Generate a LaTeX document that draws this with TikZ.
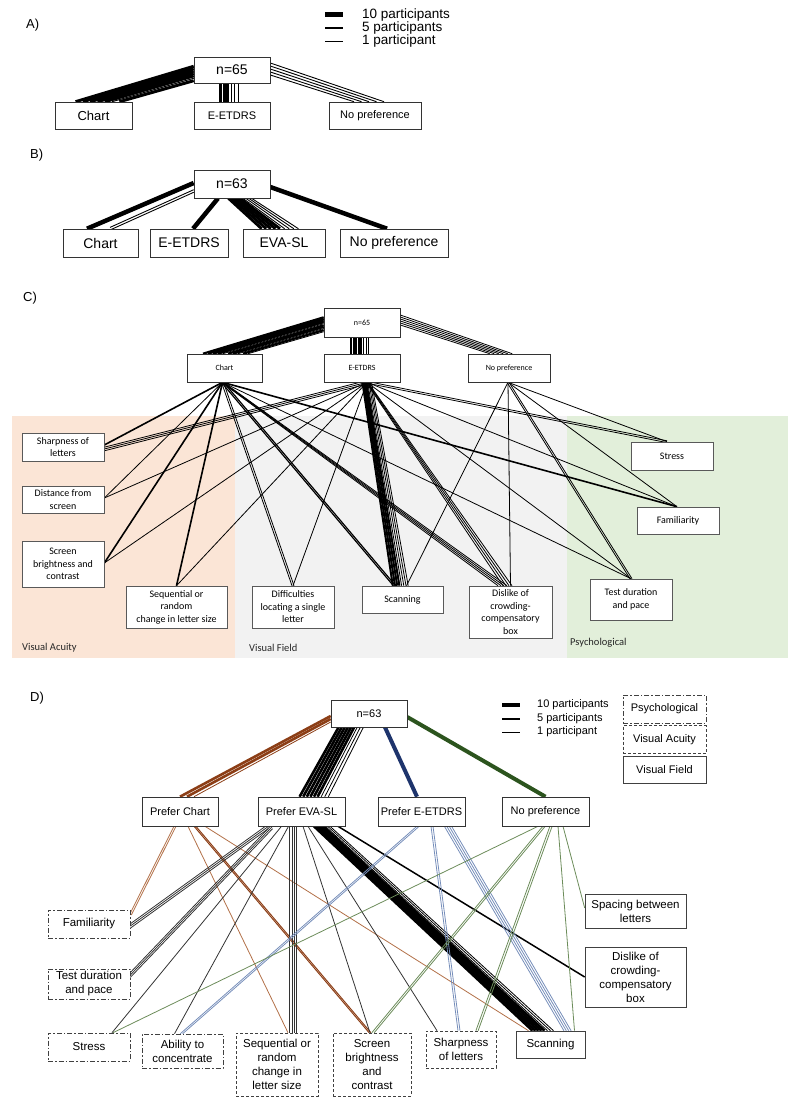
\documentclass[tikz,border=0pt]{standalone}
\usepackage{fontspec}
\setmainfont{Liberation Sans}
\newfontfamily\calfont{Carlito}
\usetikzlibrary{calc}
\usetikzlibrary{positioning}
\usetikzlibrary{backgrounds}

\definecolor{colBrown}{RGB}{140,62,22}
\definecolor{colBrownL}{RGB}{178,112,72}
\definecolor{colBlue}{RGB}{30,52,108}
\definecolor{colBlueL}{RGB}{118,142,186}
\definecolor{colGreen}{RGB}{44,84,30}
\definecolor{colGreenL}{RGB}{108,140,90}
\definecolor{bgAcuity}{RGB}{251,229,214}
\definecolor{bgField}{RGB}{242,242,242}
\definecolor{bgPsych}{RGB}{226,239,218}

% strands from #2 to #3, stepped by #4 at the start and #5 at the end, one width per strand in #6
\newcommand{\bundle}[6][black]{%
  \foreach \bw [count=\bk] in {#6}{\xdef\bundlen{\bk}}%
  \foreach \bw [count=\bk] in {#6}{%
    \pgfmathsetmacro{\boff}{\bk-(\bundlen+1)/2}%
    \draw[#1, line width=\bw pt] ($#2+{\boff}*#4$) -- ($#3+{\boff}*#5$);%
  }%
}

\begin{document}
\begin{tikzpicture}[x=1pt, y=-1pt, font=\fontsize{11}{13}\selectfont,
    wh/.style 2 args={minimum width=#1pt, minimum height=#2pt}]
\tikzstyle{box}=[draw=black!80, rectangle, fill=white, inner sep=1pt, align=center, line width=0.6pt]
\tikzstyle{abox}=[box, font=\fontsize{11}{13}\selectfont]
\tikzstyle{bbox}=[box, font=\fontsize{14}{16}\selectfont]
\tikzstyle{ctop}=[box, font=\calfont\fontsize{8}{10}\selectfont]
\tikzstyle{cbox}=[box, draw=black!65, font=\calfont\fontsize{10}{12.5}\selectfont]
\tikzstyle{dbox}=[box, draw=black!75, font=\fontsize{11.5}{14}\selectfont]
\tikzstyle{psy}=[dbox, dash pattern=on 5pt off 2pt on 1.5pt off 2pt]
\tikzstyle{acu}=[dbox, dash pattern=on 3pt off 2pt]
\tikzstyle{fld}=[dbox]
\tikzstyle{panel}=[anchor=west, inner sep=0pt, font=\fontsize{13}{15}\selectfont]
\tikzstyle{legtxt}=[anchor=west, inner sep=0pt]
\tikzstyle{region}=[anchor=west, inner sep=0pt, text=black!85, font=\calfont\fontsize{10.5}{12}\selectfont]

\useasboundingbox (0,0) rectangle (800,1108);

% ---------------- A)
\node[panel] (lblA) at (26,25) {A)};
\coordinate (kA1) at (325,15); \coordinate (kA1e) at (343,15);
\coordinate (kA2) at (325,28); \coordinate (kA2e) at (343,28);
\coordinate (kA3) at (325,41); \coordinate (kA3e) at (343,41);
\draw[line width=5pt] (kA1) -- (kA1e);
\draw[line width=2pt] (kA2) -- (kA2e);
\draw[line width=0.8pt] (kA3) -- (kA3e);
\node[legtxt, right=19pt of kA1e, font=\fontsize{13.5}{15}\selectfont] {10 participants};
\node[legtxt, right=19pt of kA2e, font=\fontsize{13.5}{15}\selectfont] {5 participants};
\node[legtxt, right=19pt of kA3e, font=\fontsize{13.5}{15}\selectfont] {1 participant};

\node[abox, wh={76}{26}, font=\fontsize{14}{16}\selectfont] (nA) at (232,70) {n=65};
\node[abox, wh={77}{27}, font=\fontsize{13}{15}\selectfont] (chartA) at (93.5,115.5) {Chart};
\node[abox, wh={76}{27}] (etdA) at (232,115.5) {E-ETDRS};
\node[abox, wh={92}{27}] (noA) at (375,115.5) {No preference};

% ---------------- B)
\node[panel] (lblB) at (30,155) {B)};
\node[bbox, wh={76}{28}] (nB) at (232,184) {n=63};
\node[bbox, wh={75}{28}] (chartB) at (100.5,243) {Chart};
\node[bbox, wh={78}{28}] (etdB) at (189,243) {E-ETDRS};
\node[bbox, wh={82}{28}] (evaB) at (284,243) {EVA-SL};
\node[bbox, wh={108}{28}] (noB) at (394,243) {No preference};

% ---------------- C)
\node[panel] (lblC) at (23,298) {C)};
\begin{scope}[on background layer]
  \fill[bgAcuity] (12,416) rectangle (235,658);
  \fill[bgField] (235,416) rectangle (567,658);
  \fill[bgPsych] (567,416) rectangle (788,658);
\end{scope}
\node[region] (regAcu) at (22,648) {Visual Acuity};
\node[region] (regFld) at (249,648) {Visual Field};
\node[region] (regPsy) at (570,643) {Psychological};

\node[ctop, wh={76}{29}] (nC) at (362,322.5) {n=65};
\node[ctop, wh={75}{28}] (chartC) at (224.5,368) {Chart};
\node[ctop, wh={76}{28}] (etdC) at (362,368) {E-ETDRS};
\node[ctop, wh={82}{28}] (noC) at (509,368) {No preference};

\node[cbox, wh={82}{28}] (sharpC) at (63,447) {Sharpness of\\letters};
\node[cbox, wh={82}{27}] (distC) at (63,499.5) {Distance from\\screen};
\node[cbox, wh={82}{46}] (screenC) at (63,564) {Screen\\brightness and\\contrast};
\node[cbox, wh={101}{42}] (seqC) at (176.5,607) {Sequential or\\random\\change in letter size};
\node[cbox, wh={82}{42}] (diffC) at (293,607) {Difficulties\\locating a single\\letter};
\node[cbox, wh={81}{27}] (scanC) at (402.5,599.5) {Scanning};
\node[cbox, wh={83}{52}] (dislikeC) at (510.5,612) {Dislike of\\crowding-\\compensatory\\box};
\node[cbox, wh={82}{41}] (testC) at (631,599.5) {Test duration\\and pace};
\node[cbox, wh={82}{28}] (stressC) at (672,456) {Stress};
\node[cbox, wh={82}{27}] (famC) at (678,520.5) {Familiarity};

% ---------------- D)
\node[panel] (lblD) at (30,698) {D)};
\coordinate (kD1) at (502,705); \coordinate (kD1e) at (520,705);
\coordinate (kD2) at (502,719); \coordinate (kD2e) at (520,719);
\coordinate (kD3) at (502,732); \coordinate (kD3e) at (520,732);
\draw[line width=4pt] (kD1) -- (kD1e);
\draw[line width=2pt] (kD2) -- (kD2e);
\draw[line width=0.8pt] (kD3) -- (kD3e);
\node[legtxt, right=17pt of kD1e] {10 participants};
\node[legtxt, right=17pt of kD2e] {5 participants};
\node[legtxt, right=17pt of kD3e] {1 participant};
\node[psy, wh={83}{28}, font=\fontsize{11}{13}\selectfont] (psyK) at (664.5,709) {Psychological};
\node[acu, wh={83}{28}, font=\fontsize{11}{13}\selectfont] (acuK) at (664.5,739.5) {Visual Acuity};
\node[fld, wh={83}{27}, font=\fontsize{11}{13}\selectfont] (fldK) at (664.5,770) {Visual Field};

\node[abox, wh={76}{27}] (nD) at (369,713.5) {n=63};
\node[abox, wh={76}{29}] (pChart) at (180,811.5) {Prefer Chart};
\node[abox, wh={87}{29}] (pEva) at (301.5,811.5) {Prefer EVA-SL};
\node[abox, wh={87}{29}] (pEtd) at (421.5,811.5) {Prefer E-ETDRS};
\node[abox, wh={87}{29}] (pNo) at (545.5,811.5) {No preference};

\node[psy, wh={82}{28}] (famD) at (89,924) {Familiarity};
\node[psy, wh={82}{30}] (testD) at (89,984) {Test duration\\and pace};
\node[psy, wh={82}{28}] (stressD) at (89,1047) {Stress};
\node[psy, wh={81}{34}] (concD) at (182.5,1051) {Ability to\\concentrate};
\node[acu, wh={82}{63}] (seqD) at (277,1064.5) {Sequential or\\random\\change in\\letter size};
\node[acu, wh={78}{63}] (screenD) at (372,1064.5) {Screen\\brightness\\and\\contrast};
\node[acu, wh={70}{37}] (sharpD) at (461,1049.5) {Sharpness\\of letters};
\node[fld, wh={69}{27}] (scanD) at (550.5,1044.5) {Scanning};
\node[fld, wh={101}{34}] (spaceD) at (635.5,911) {Spacing between\\letters};
\node[fld, wh={101}{60}] (dislikeD) at (635.5,977) {Dislike of\\crowding-\\compensatory\\box};

\begin{scope}[on background layer]
% A) connectors
\bundle{([yshift=-3.5pt]nA.west)}{([xshift=4pt]chartA.north)}{(0,2.4)}{(7.3,0)}{3,3,3,3,3,1,3}
\bundle{([xshift=-2.5pt]nA.south)}{([xshift=-2.5pt]etdA.north)}{(3.6,0)}{(3.6,0)}{3,3,3,1,1,1}
\bundle{([yshift=1pt]nA.east)}{([xshift=-6pt]noA.north)}{(0,3)}{(-7.5,0)}{0.9,0.9,0.9,0.9,0.9}
% B) connectors
\bundle{([yshift=1pt]nB.west)}{([xshift=-13.5pt]chartB.north)}{(0,0)}{(0,0)}{4.5}
\bundle{([yshift=-7pt]nB.west)}{([xshift=9.5pt]chartB.north)}{(0,2.6)}{(0,2.6)}{0.9,0.9}
\bundle{([xshift=-14pt]nB.south)}{([xshift=4pt]etdB.north)}{(0,0)}{(0,0)}{4.5}
\bundle{([xshift=8pt]nB.south)}{([xshift=-4pt]evaB.north)}{(2.9,0)}{(4.6,0)}{2.8,2.8,2.8,2.8,2.8,0.9,0.9,0.9,0.9}
\bundle{([yshift=-3pt]nB.east)}{([xshift=-7pt]noB.north)}{(0,0)}{(0,0)}{4.5}
% C) connectors
\bundle{([yshift=-2pt]nC.west)}{([xshift=1pt]chartC.north)}{(0,1.6)}{(5,0)}{2.2,2.2,2.2,2.2,0.8,2.2,2.2,0.8,2.2,0.8}
\bundle{([xshift=-2pt]nC.south)}{([xshift=-2pt]etdC.north)}{(2.5,0)}{(2.5,0)}{2.4,2.4,2.4,2.4,2.4,0.8,0.8,0.8}
\bundle{([yshift=2.5pt]nC.east)}{([xshift=-8pt]noC.north)}{(0,2)}{(-4.5,0)}{0.8,0.8,0.8,0.8,0.8,0.8}
% chart
\bundle{([xshift=-2pt]chartC.south)}{([yshift=2pt]sharpC.east)}{(0,0)}{(0,0)}{1.6}
\bundle{([xshift=-2pt]chartC.south)}{([yshift=1.5pt]distC.east)}{(0,0)}{(0,0)}{0.8}
\bundle{([xshift=-2pt]chartC.south)}{([yshift=1pt]screenC.east)}{(0,0)}{(0,0)}{1.6}
\bundle{([xshift=-2pt]chartC.south)}{(seqC.north)}{(0,0)}{(0,0)}{1.6}
\bundle{([xshift=-2pt]chartC.south)}{(diffC.north)}{(2,0)}{(2,0)}{0.8,0.8}
\bundle{([xshift=-2pt]chartC.south)}{([xshift=-8pt]scanC.north)}{(2.2,0)}{(2.2,0)}{1.2,1.2}
\bundle{([xshift=-2pt]chartC.south)}{([xshift=-8pt]dislikeC.north)}{(0.6,0)}{(3,0)}{0.8,0.8,0.8,0.8}
\bundle{([xshift=-2pt]chartC.south)}{([xshift=-1pt]famC.north)}{(0,0)}{(0,0)}{1.6}
\bundle{([xshift=-2pt]chartC.south)}{(testC.north)}{(0,0)}{(0,0)}{0.8}
% e-etdrs
\bundle{([xshift=5pt]etdC.south)}{([yshift=-2pt]sharpC.east)}{(0,1.8)}{(0,1.8)}{0.8,0.8,0.8}
\bundle{([xshift=5pt]etdC.south)}{([yshift=1.5pt]distC.east)}{(0,0)}{(0,0)}{0.8}
\bundle{([xshift=5pt]etdC.south)}{([yshift=1pt]screenC.east)}{(0,0)}{(0,0)}{0.8}
\bundle{([xshift=5pt]etdC.south)}{(seqC.north)}{(0,0)}{(0,0)}{0.8}
\bundle{([xshift=5pt]etdC.south)}{(diffC.north)}{(0,0)}{(0,0)}{0.8}
\bundle{([xshift=5pt]etdC.south)}{([xshift=-2pt]scanC.north)}{(1.3,0)}{(2.2,0)}{2,2,2,2,0.8,0.8,0.8,0.8}
\bundle{([xshift=5pt]etdC.south)}{([xshift=-3pt]dislikeC.north)}{(0.6,0)}{(3,0)}{0.8,0.8,0.8,0.8}
\bundle{([xshift=5pt]etdC.south)}{([xshift=-5pt]stressC.north)}{(0,1.8)}{(0,1.8)}{0.8,0.8}
\bundle{([xshift=5pt]etdC.south)}{([xshift=-1pt]famC.north)}{(0,0)}{(0,0)}{0.8}
\bundle{([xshift=5pt]etdC.south)}{(testC.north)}{(0,0)}{(0,0)}{0.8}
% no preference
\bundle{([xshift=-1pt]noC.south)}{([xshift=4pt]scanC.north)}{(0,0)}{(0,0)}{0.8}
\bundle{([xshift=-1pt]noC.south)}{(dislikeC.north)}{(0,0)}{(0,0)}{0.8}
\bundle{([xshift=-1pt]noC.south)}{([xshift=-5pt]stressC.north)}{(0,0)}{(0,0)}{0.8}
\bundle{([xshift=-1pt]noC.south)}{([xshift=-1pt]famC.north)}{(0,0)}{(0,0)}{0.8}
\bundle{([xshift=-1pt]noC.south)}{(testC.north)}{(2,0)}{(2,0)}{0.8,0.8}
% D) connectors
\bundle[colBrown]{([yshift=-5.5pt]nD.west)}{([xshift=7pt]pChart.north)}{(0,3)}{(7,0)}{2.6,2.6,0.8}
\bundle{([xshift=-18pt]nD.south)}{([xshift=12.5pt]pEva.north)}{(3.1,0)}{(3.6,0)}{2.6,2.6,2.6,2.6,2.6,2.6,0.8,0.8,0.8}
\bundle[colBlue]{([xshift=16pt]nD.south)}{([xshift=-4.5pt]pEtd.north)}{(0,0)}{(0,0)}{4}
\bundle[colGreen]{([yshift=-3.5pt]nD.east)}{(pNo.north)}{(0,0)}{(0,0)}{4}
% prefer chart
\bundle[colBrownL]{([xshift=-5pt]pChart.south)}{([yshift=9pt]famD.east)}{(2,0)}{(2,0)}{0.8,0.8}
\bundle[colBrownL]{([xshift=8pt]pChart.south)}{([xshift=11pt]seqD.north)}{(0,0)}{(0,0)}{0.8}
\bundle[colBrown]{([xshift=15pt]pChart.south)}{([xshift=-2pt]screenD.north)}{(1.8,0)}{(1.8,0)}{1,1}
\bundle[colBrownL]{([xshift=25pt]pChart.south)}{([xshift=-22pt]scanD.north)}{(0,0)}{(0,0)}{0.8}
% prefer eva-sl
\bundle[black!80]{([xshift=-33pt]pEva.south)}{([yshift=-2pt]famD.east)}{(0,2.2)}{(0,2.2)}{0.8,0.8,0.8}
\bundle[black!80]{([xshift=-29pt]pEva.south)}{([yshift=9pt]testD.east)}{(0,2.4)}{(0,2.4)}{0.8,0.8,0.8}
\bundle[black!80]{([xshift=-20pt]pEva.south)}{([xshift=23pt]stressD.north)}{(0,0)}{(0,0)}{0.8}
\bundle[black!80]{([xshift=-13pt]pEva.south)}{([xshift=-8pt]concD.north)}{(0,0)}{(0,0)}{0.8}
\bundle[black!80]{([xshift=-8.5pt]pEva.south)}{([xshift=16pt]seqD.north)}{(2.2,0)}{(2.2,0)}{0.8,0.8,0.8,0.8}
\bundle[black!80]{([xshift=1.5pt]pEva.south)}{([xshift=-2pt]screenD.north)}{(0,0)}{(0,0)}{0.8}
\bundle[black!80]{([xshift=6.5pt]pEva.south)}{([xshift=-24pt]sharpD.north)}{(0,0)}{(0,0)}{0.8}
\bundle{([xshift=20.5pt]pEva.south)}{([xshift=-7.5pt]scanD.north)}{(2.3,0)}{(3,0)}{2.5,2.5,2.5,2.5,2.5,0.8,0.8,0.8}
\bundle{([xshift=36.5pt]pEva.south)}{(dislikeD.west)}{(0,0)}{(0,0)}{1.5}
% prefer e-etdrs
\bundle[colBlueL]{([xshift=-3.5pt]pEtd.south)}{([xshift=-1pt]concD.north)}{(2.4,0)}{(2.4,0)}{0.8,0.8}
\bundle[colBlueL]{([xshift=10.5pt]pEtd.south)}{([xshift=-2pt]sharpD.north)}{(2,0)}{(2,0)}{0.8,0.8}
\bundle[colBlueL]{([xshift=26.5pt]pEtd.south)}{([xshift=17pt]scanD.north)}{(2.4,0)}{(2.4,0)}{0.8,0.8,0.8,0.8}
% no preference
\bundle[colGreenL]{([xshift=-7.5pt]pNo.south)}{([xshift=24pt]stressD.north)}{(0,0)}{(0,0)}{0.8}
\bundle[colGreenL]{([xshift=-1.5pt]pNo.south)}{([xshift=1pt]screenD.north)}{(2.4,0)}{(2.4,0)}{0.8,0.8}
\bundle[colGreenL]{([xshift=5.5pt]pNo.south)}{([xshift=16pt]sharpD.north)}{(2.2,0)}{(2.2,0)}{0.8,0.8}
\bundle[colGreenL]{([xshift=12.5pt]pNo.south)}{([xshift=24pt]scanD.north)}{(0,0)}{(0,0)}{0.8}
\bundle[colGreenL]{([xshift=17.5pt]pNo.south)}{([yshift=3pt]spaceD.west)}{(0,0)}{(0,0)}{0.8}
\end{scope}
\end{tikzpicture}
\end{document}
